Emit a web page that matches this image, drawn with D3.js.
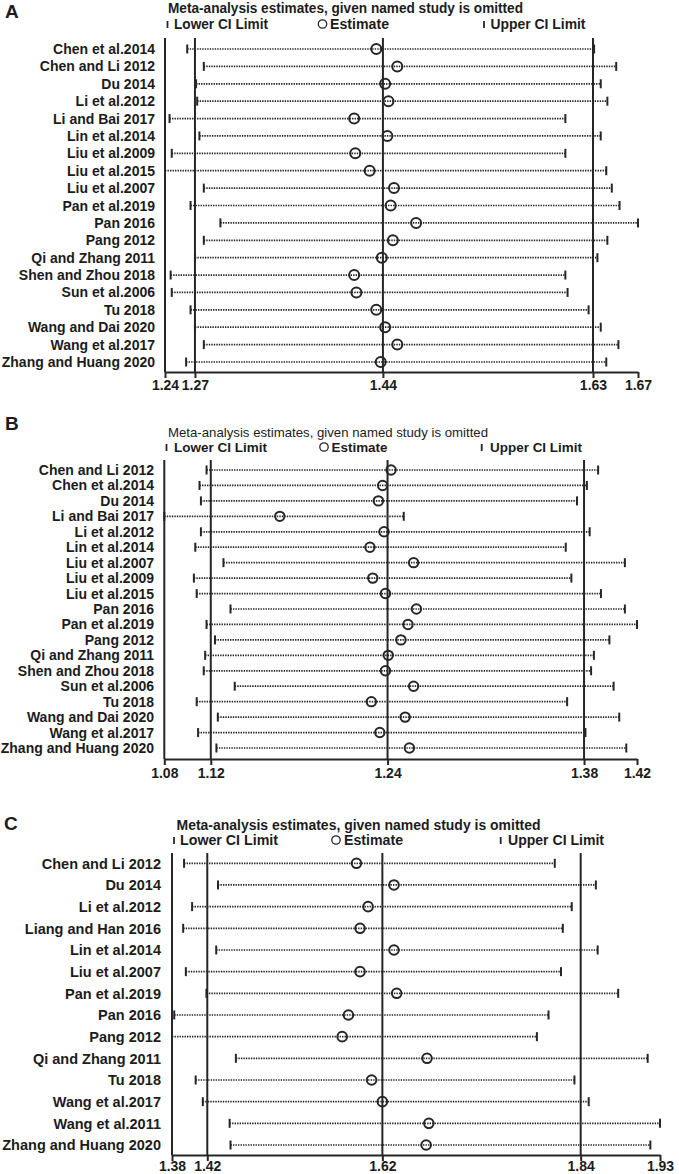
<!DOCTYPE html>
<html>
<head>
<meta charset="utf-8">
<script src="https://cdn.jsdelivr.net/npm/d3@7"></script>
<style>
  body { margin: 0; background: #fff; }
  svg text { font-family: "Liberation Sans", Arial, sans-serif; fill: #1c1c1c; }
</style>
</head>
<body>
<svg id="chart" width="679" height="1174"></svg>
<script>
// ---- panel A ----
const studiesA = ["Chen et al.2014", "Chen and Li 2012", "Du 2014", "Li et al.2012", "Li and Bai 2017",
  "Lin et al.2014", "Liu et al.2009", "Liu et al.2015", "Liu et al.2007", "Pan et al.2019", "Pan 2016",
  "Pang 2012", "Qi and Zhang 2011", "Shen and Zhou 2018", "Sun et al.2006", "Tu 2018",
  "Wang and Dai 2020", "Wang et al.2017", "Zhang and Huang 2020"];
const estA   = [1.434, 1.453, 1.442, 1.445, 1.414, 1.444, 1.415, 1.428, 1.450, 1.447, 1.470,
  1.449, 1.439, 1.414, 1.416, 1.434, 1.442, 1.453, 1.438];
const lowerA = [1.263, 1.278, 1.271, 1.272, 1.247, 1.274, 1.249, 1.2429, 1.278, 1.266, 1.293,
  1.278, 1.270, 1.248, 1.249, 1.266, 1.270, 1.278, 1.262];
const upperA = [1.631, 1.651, 1.637, 1.643, 1.605, 1.637, 1.605, 1.642, 1.647, 1.654, 1.6707,
  1.643, 1.634, 1.605, 1.607, 1.626, 1.637, 1.653, 1.642];
const pooledA = [1.27, 1.44, 1.63];
const ticksA  = [1.2429, 1.27, 1.44, 1.63, 1.6707];

// ---- panel B ----
const studiesB = ["Chen and Li 2012", "Chen et al.2014", "Du 2014", "Li and Bai 2017", "Li et al.2012",
  "Lin et al.2014", "Liu et al.2007", "Liu et al.2009", "Liu et al.2015", "Pan 2016", "Pan et al.2019",
  "Pang 2012", "Qi and Zhang 2011", "Shen and Zhou 2018", "Sun et al.2006", "Tu 2018",
  "Wang and Dai 2020", "Wang et al.2017", "Zhang and Huang 2020"];
const estB   = [1.244, 1.238, 1.235, 1.165, 1.239, 1.229, 1.260, 1.231, 1.240, 1.262, 1.256,
  1.251, 1.242, 1.240, 1.260, 1.230, 1.254, 1.236, 1.257];
const lowerB = [1.113, 1.108, 1.109, 1.083, 1.109, 1.105, 1.125, 1.104, 1.106, 1.130, 1.113,
  1.119, 1.112, 1.111, 1.133, 1.106, 1.121, 1.107, 1.120];
const upperB = [1.391, 1.383, 1.376, 1.253, 1.385, 1.368, 1.410, 1.372, 1.393, 1.410, 1.4186,
  1.399, 1.388, 1.386, 1.402, 1.369, 1.406, 1.382, 1.411];
const pooledB = [1.116, 1.2415, 1.381];
const ticksB  = [1.083, 1.116, 1.2415, 1.381, 1.4186];

// ---- panel C ----
const studiesC = ["Chen and Li 2012", "Du 2014", "Li et al.2012", "Liang and Han 2016", "Lin et al.2014",
  "Liu et al.2007", "Pan et al.2019", "Pan 2016", "Pang 2012", "Qi and Zhang 2011", "Tu 2018",
  "Wang et al.2017", "Wang et al.2011", "Zhang and Huang 2020"];
const estC   = [1.590, 1.632, 1.603, 1.594, 1.632, 1.594, 1.635, 1.581, 1.574, 1.669, 1.607,
  1.619, 1.671, 1.668];
const lowerC = [1.397, 1.435, 1.406, 1.396, 1.433, 1.399, 1.422, 1.386, 1.3835, 1.455, 1.410,
  1.418, 1.448, 1.449];
const upperC = [1.812, 1.858, 1.831, 1.821, 1.860, 1.819, 1.883, 1.805, 1.792, 1.916, 1.834,
  1.850, 1.9298, 1.919];
const pooledC = [1.423, 1.619, 1.841];
const ticksC  = [1.3835, 1.423, 1.619, 1.841, 1.9298];

const svg = d3.select("#chart");
const ink = "#262626";

function drawPanel(p) {
  const g = svg.append("g");
  const x = d3.scaleLinear().domain(d3.extent(p.ticks)).range([p.left, p.right]);
  const y = d3.scalePoint().domain(p.studies).range([p.rowTop, p.rowBottom]);

  // panel letter
  g.append("text").attr("x", p.letterX).attr("y", p.letterY)
    .style("font-size", "19px").style("font-weight", "bold").text(p.letter);

  // title + legend
  g.append("text").attr("x", p.titleX).attr("y", p.titleY)
    .style("font-size", p.titleSize).style("font-weight", p.titleWeight)
    .attr("textLength", p.titleLen).attr("lengthAdjust", "spacingAndGlyphs")
    .text("Meta-analysis estimates, given named study is omitted");

  const ly = p.legendY;
  const leg = g.append("g").style("font-size", p.titleSize).style("font-weight", "bold");
  leg.append("line").attr("x1", p.leg[0]).attr("x2", p.leg[0]).attr("y1", ly - 8).attr("y2", ly - 1)
    .attr("stroke", ink).attr("stroke-width", 1.8);
  leg.append("text").attr("x", p.leg[1]).attr("y", ly).attr("textLength", p.leg[2])
    .attr("lengthAdjust", "spacingAndGlyphs").text("Lower CI Limit");
  leg.append("circle").attr("cx", p.leg[3]).attr("cy", ly - 5).attr("r", 4.2)
    .attr("fill", "none").attr("stroke", ink).attr("stroke-width", 1.3);
  leg.append("text").attr("x", p.leg[4]).attr("y", ly).attr("textLength", p.leg[5])
    .attr("lengthAdjust", "spacingAndGlyphs").text("Estimate");
  leg.append("line").attr("x1", p.leg[6]).attr("x2", p.leg[6]).attr("y1", ly - 8).attr("y2", ly - 1)
    .attr("stroke", ink).attr("stroke-width", 1.8);
  leg.append("text").attr("x", p.leg[7]).attr("y", ly).attr("textLength", p.leg[8])
    .attr("lengthAdjust", "spacingAndGlyphs").text("Upper CI Limit");

  // left frame line and pooled reference lines
  g.append("line").attr("x1", p.left).attr("x2", p.left).attr("y1", p.plotTop).attr("y2", p.axisY)
    .attr("stroke", ink).attr("stroke-width", 2);
  g.selectAll(".ref").data(p.pooled).join("line")
    .attr("x1", d => x(d)).attr("x2", d => x(d))
    .attr("y1", p.plotTop).attr("y2", p.axisY)
    .attr("stroke", ink).attr("stroke-width", 2);

  // axis
  const ax = g.append("g").attr("transform", `translate(0,${p.axisY})`)
    .call(d3.axisBottom(x).tickValues(p.ticks).tickFormat(d3.format(".2f"))
      .tickSize(6).tickSizeOuter(0).tickPadding(p.tickPad));
  ax.select(".domain").attr("stroke", ink).attr("stroke-width", 2);
  ax.selectAll(".tick line").attr("stroke", ink).attr("stroke-width", 2);
  ax.selectAll(".tick text").style("font-size", "14px").style("font-weight", "bold")
    .style("font-family", "'Liberation Sans', Arial, sans-serif").attr("fill", "#1c1c1c");

  // rows
  const rows = g.selectAll(".row").data(p.studies).join("g")
    .attr("transform", d => `translate(0,${y(d)})`);
  rows.append("text").attr("x", p.labelX).attr("dy", "0.36em").attr("text-anchor", "end")
    .style("font-size", p.labelSize).style("font-weight", "bold").text(d => d);
  rows.append("line")
    .attr("x1", (d, i) => x(p.lower[i])).attr("x2", (d, i) => x(p.upper[i]))
    .attr("stroke", ink).attr("stroke-width", 1.7).attr("stroke-dasharray", "1.4,1.1");
  rows.append("line").attr("class", "cap")
    .attr("x1", (d, i) => x(p.lower[i])).attr("x2", (d, i) => x(p.lower[i]))
    .attr("y1", -4.5).attr("y2", 4.5).attr("stroke", ink).attr("stroke-width", 2);
  rows.append("line").attr("class", "cap")
    .attr("x1", (d, i) => x(p.upper[i])).attr("x2", (d, i) => x(p.upper[i]))
    .attr("y1", -4.5).attr("y2", 4.5).attr("stroke", ink).attr("stroke-width", 2);
  rows.append("circle").attr("cx", (d, i) => x(p.est[i])).attr("r", p.r)
    .attr("fill", "none").attr("stroke", ink).attr("stroke-width", 2);
}

drawPanel({
  letter: "A", letterX: 5, letterY: 18,
  studies: studiesA, est: estA, lower: lowerA, upper: upperA, pooled: pooledA, ticks: ticksA,
  left: 165, right: 638, plotTop: 38, rowTop: 49, rowBottom: 362, axisY: 372, tickPad: 2,
  titleX: 168, titleY: 13, titleLen: 355, titleSize: "14px", titleWeight: "bold", legendY: 29,
  leg: [167.5, 174, 94, 322.5, 330, 59, 484, 490.5, 95],
  labelX: 155, labelSize: "14px", r: 5
});

drawPanel({
  letter: "B", letterX: 5, letterY: 430,
  studies: studiesB, est: estB, lower: lowerB, upper: upperB, pooled: pooledB, ticks: ticksB,
  left: 164.3, right: 637, plotTop: 460, rowTop: 470, rowBottom: 748, axisY: 759, tickPad: 3,
  titleX: 168, titleY: 437, titleLen: 320, titleSize: "13.5px", titleWeight: "normal", legendY: 452,
  leg: [166.5, 174, 93, 324, 331.5, 56, 481.7, 490, 92],
  labelX: 154, labelSize: "14px", r: 4.7
});

drawPanel({
  letter: "C", letterX: 4, letterY: 830,
  studies: studiesC, est: estC, lower: lowerC, upper: upperC, pooled: pooledC, ticks: ticksC,
  left: 172, right: 660, plotTop: 853, rowTop: 863.3, rowBottom: 1145, axisY: 1155, tickPad: 0.5,
  titleX: 176.5, titleY: 830, titleLen: 364, titleSize: "14px", titleWeight: "bold", legendY: 845,
  leg: [174, 180, 98, 336, 344, 59, 500.7, 508, 96],
  labelX: 161, labelSize: "14.5px", r: 4.8
});
</script>
</body>
</html>
